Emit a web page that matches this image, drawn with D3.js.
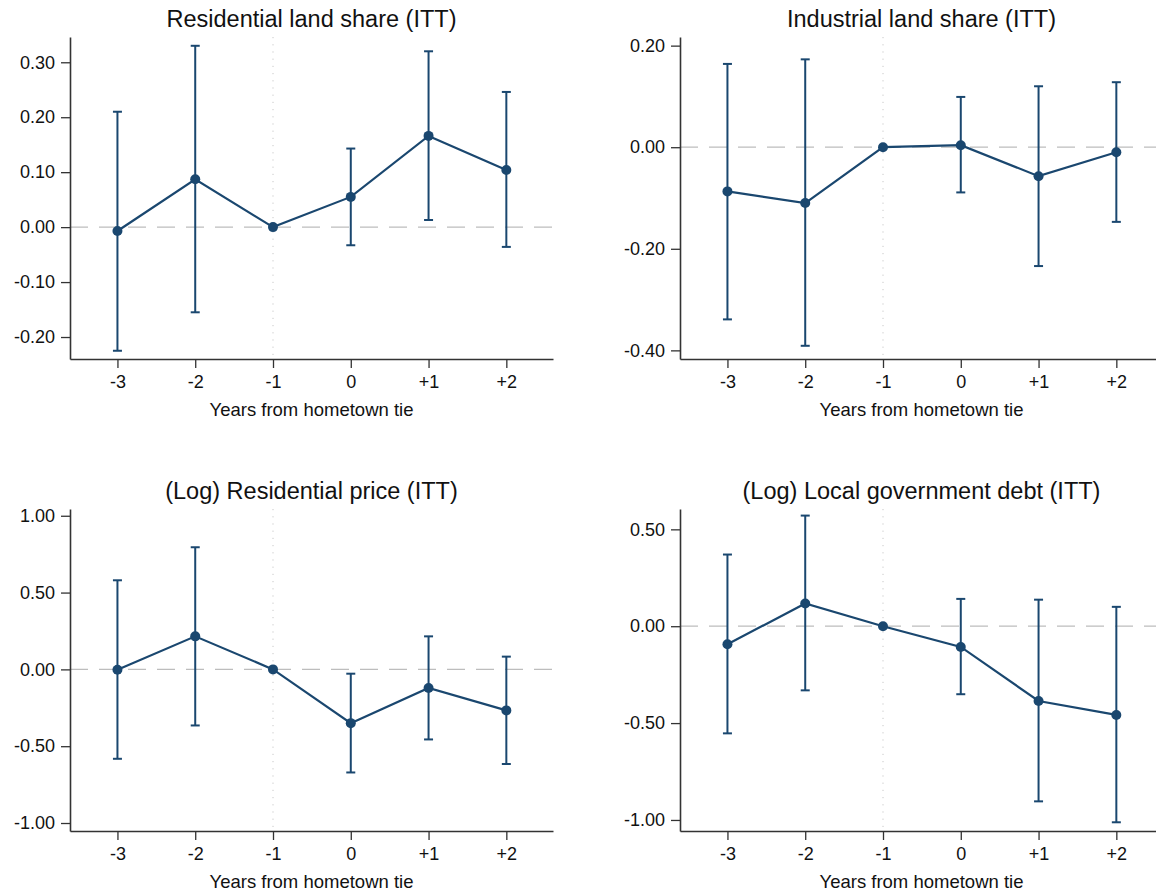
<!DOCTYPE html>
<html>
<head>
<meta charset="utf-8">
<script src="https://cdn.jsdelivr.net/npm/d3@7"></script>
<style>
  body { margin: 0; background: #fff; }
  svg { display: block; font-family: "Liberation Sans", Arial, Helvetica, sans-serif; }
</style>
</head>
<body>
<div id="chart"></div>
<script>
// Event time
const years = [-3, -2, -1, 0, 1, 2];
const yearLabels = ["-3", "-2", "-1", "0", "+1", "+2"];

// Residential land share
const resEst = [-0.007, 0.087, 0, 0.055, 0.166, 0.104];
const resLo = [-0.225, -0.155, 0, -0.033, 0.013, -0.036];
const resHi = [0.21, 0.33, 0, 0.143, 0.32, 0.246];
const resTicks = [-0.2, -0.1, 0, 0.1, 0.2, 0.3];

// Industrial land share
const indEst = [-0.087, -0.110, 0, 0.004, -0.057, -0.010];
const indLo = [-0.339, -0.391, 0, -0.089, -0.234, -0.147];
const indHi = [0.164, 0.173, 0, 0.099, 0.120, 0.128];
const indTicks = [-0.4, -0.2, 0, 0.2];

// (Log) residential price
const priceEst = [-0.002, 0.215, 0, -0.35, -0.121, -0.267];
const priceLo = [-0.582, -0.365, 0, -0.671, -0.456, -0.616];
const priceHi = [0.58, 0.795, 0, -0.028, 0.215, 0.083];
const priceTicks = [-1, -0.5, 0, 0.5, 1];

// (Log) local government debt
const debtEst = [-0.093, 0.117, 0, -0.107, -0.386, -0.458];
const debtLo = [-0.553, -0.331, 0, -0.351, -0.904, -1.012];
const debtHi = [0.37, 0.571, 0, 0.141, 0.137, 0.1];
const debtTicks = [-1, -0.5, 0, 0.5];

const navy = "#1a476f";

// Panels: data + where they sit
const panels = [
  { title: "Residential land share (ITT)", est: resEst, lo: resLo, hi: resHi, ticks: resTicks,
    ydom: [-0.24, 0.346], left: 70, top: 37 },
  { title: "Industrial land share (ITT)", est: indEst, lo: indLo, hi: indHi, ticks: indTicks,
    ydom: [-0.417, 0.217], left: 680, top: 37 },
  { title: "(Log) Residential price (ITT)", est: priceEst, lo: priceLo, hi: priceHi, ticks: priceTicks,
    ydom: [-1.052, 1.044], left: 70, top: 509 },
  { title: "(Log) Local government debt (ITT)", est: debtEst, lo: debtLo, hi: debtHi, ticks: debtTicks,
    ydom: [-1.057, 0.605], left: 680, top: 509 }
];

const width = 483;
const height = 322;

// stata style labels: plain hyphen for negatives
const fmt2 = (d) => d3.format(".2f")(d).replace("\u2212", "-");

const svg = d3.select("#chart")
  .append("svg")
  .attr("width", 1156)
  .attr("height", 893);

panels.forEach((p) => {
  const g = svg.append("g")
    .attr("transform", "translate(" + p.left + "," + p.top + ")");

  const x = d3.scaleLinear().domain([-3.61, 2.6]).range([0, width]);
  const y = d3.scaleLinear().domain(p.ydom).range([height, 0]);

  const rows = years.map((yr, i) => ({ yr: yr, est: p.est[i], lo: p.lo[i], hi: p.hi[i] }));

  // reference lines
  g.append("line")
    .attr("x1", 0).attr("x2", width)
    .attr("y1", y(0)).attr("y2", y(0))
    .attr("stroke", "#bdbdbd")
    .attr("stroke-width", 1.3)
    .attr("stroke-dasharray", "18,11");

  g.append("line")
    .attr("x1", x(-1)).attr("x2", x(-1))
    .attr("y1", 0).attr("y2", height)
    .attr("stroke", "#c8c8c8")
    .attr("stroke-width", 1)
    .attr("stroke-dasharray", "1.2,6");

  // axes
  const xAxis = d3.axisBottom(x)
    .tickValues(years)
    .tickFormat((d, i) => yearLabels[i])
    .tickSize(9)
    .tickSizeOuter(0)
    .tickPadding(7);
  const yAxis = d3.axisLeft(y)
    .tickValues(p.ticks)
    .tickFormat(fmt2)
    .tickSize(9)
    .tickSizeOuter(0)
    .tickPadding(6);

  const gx = g.append("g")
    .attr("transform", "translate(0," + height + ")")
    .call(xAxis);
  const gy = g.append("g").call(yAxis);

  [gx, gy].forEach((ax) => {
    ax.select(".domain").attr("stroke", "#333").attr("stroke-width", 1.6);
    ax.selectAll(".tick line").attr("stroke", "#333").attr("stroke-width", 1.3);
    ax.selectAll(".tick text")
      .attr("fill", "#111")
      .style("font-size", "18px")
      .style("font-family", "'Liberation Sans', Arial, sans-serif");
  });

  // error bars (reference year has none)
  const ci = rows.filter((d) => d.lo !== d.hi);
  g.selectAll(".ci")
    .data(ci)
    .enter()
    .append("line")
    .attr("x1", (d) => x(d.yr)).attr("x2", (d) => x(d.yr))
    .attr("y1", (d) => y(d.lo)).attr("y2", (d) => y(d.hi))
    .attr("stroke", navy).attr("stroke-width", 2);

  ["lo", "hi"].forEach((k) => {
    g.selectAll(".cap-" + k)
      .data(ci)
      .enter()
      .append("line")
      .attr("x1", (d) => x(d.yr) - 4.5).attr("x2", (d) => x(d.yr) + 4.5)
      .attr("y1", (d) => y(d[k])).attr("y2", (d) => y(d[k]))
      .attr("stroke", navy).attr("stroke-width", 2);
  });

  // connected estimates
  const line = d3.line().x((d) => x(d.yr)).y((d) => y(d.est));
  g.append("path")
    .datum(rows)
    .attr("d", line)
    .attr("fill", "none")
    .attr("stroke", navy)
    .attr("stroke-width", 2.2);

  g.selectAll(".pt")
    .data(rows)
    .enter()
    .append("circle")
    .attr("cx", (d) => x(d.yr))
    .attr("cy", (d) => y(d.est))
    .attr("r", 5)
    .attr("fill", navy);

  // titles
  g.append("text")
    .attr("x", width / 2)
    .attr("y", -10)
    .attr("text-anchor", "middle")
    .attr("fill", "#111")
    .style("font-size", "23.5px")
    .text(p.title);

  g.append("text")
    .attr("x", width / 2)
    .attr("y", height + 57)
    .attr("text-anchor", "middle")
    .attr("fill", "#111")
    .style("font-size", "18.5px")
    .text("Years from hometown tie");
});
</script>
</body>
</html>
